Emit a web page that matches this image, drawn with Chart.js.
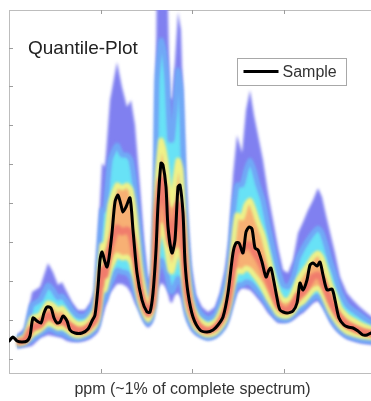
<!DOCTYPE html>
<html><head><meta charset="utf-8">
<script src="https://cdn.jsdelivr.net/npm/chart.js@4.4.1/dist/chart.umd.min.js"></script>
<style>
html,body{margin:0;padding:0;background:#fff;overflow:hidden;width:371px;height:401px}
#wrap{position:absolute;left:0;top:0;width:385px;height:401px}
</style>
</head><body><div id="wrap"><canvas id="c" width="385" height="401"></canvas></div>
<script>
// ---- data (x: spectral point index, y: intensity, arbitrary units) ----
const plotTitle = 'Quantile-Plot';
const seriesName = 'Sample';
const xLabel = 'ppm (~1% of complete spectrum)';
const xTicks = [92, 183, 275];
const yTicks = [14, 53, 92, 131, 170, 209, 248, 287, 325];

const sampleX = [0,4,8,13,18,21,24,28,32,35,38,42,45,48,51,54,58,61,66,73,79,83,86,89,91,93,96,98,100,103,106,109,112,114,117,121,124,128,133,138,141,144,147,149,152,154,157,159,163,166,169,171,174,176,179,184,191,198,204,209,214,219,224,227,230,234,237,240,243,246,249,253,257,260,262,265,268,271,278,284,288,291,294,298,301,304,308,311,314,318,323,326,330,335,339,344,349,354,358,362,367];
const sampleY = [32,36,32,31,32,37,55,52,50,60,66,65,55,50,51,57,52,43,40,40,44,52,58,86,113,121,111,106,115,140,171,178,168,161,166,175,143,100,73,61,61,80,123,168,210,208,186,146,120,133,186,188,160,111,80,56,43,41,43,48,56,80,120,130,130,120,141,146,144,125,123,111,96,103,105,91,75,63,60,62,70,90,83,93,108,110,107,111,98,83,84,73,55,48,46,45,42,38,38,40,40];

const bandX = [8,16,23,31,39,44,49,53,58,63,69,76,81,86,89,93,96,101,108,113,118,122,126,131,135,139,143,146,148,152,155,158,161,163,166,169,172,175,178,182,187,193,199,206,211,216,220,224,228,233,237,241,245,249,254,259,264,269,274,279,284,289,294,299,304,309,313,317,321,326,331,338,344,351,358,367];
const qMax = [38,45,81,86,110,101,88,91,81,71,63,63,70,83,133,210,206,273,311,286,266,273,248,186,133,93,103,223,403,403,403,403,276,273,313,361,343,243,163,108,78,66,61,66,80,103,133,198,238,220,263,283,258,238,213,180,153,126,103,100,113,140,151,163,173,185,176,158,141,120,96,80,73,66,60,53];
const q90 = [35,40,68,73,88,83,75,77,71,63,57,57,63,73,111,163,163,213,228,218,218,213,188,138,103,78,88,173,293,333,323,293,233,233,263,303,283,193,133,88,68,58,54,58,70,88,111,158,188,188,203,213,203,188,173,148,125,103,88,86,95,115,125,133,140,145,140,128,113,98,81,68,63,58,53,48];
const q75 = [33,36,55,58,70,68,63,65,59,53,49,50,55,63,88,128,125,168,188,185,188,183,158,108,83,68,78,133,193,233,223,203,173,168,193,213,203,153,105,73,58,51,48,51,60,73,93,128,158,155,168,173,163,151,138,118,98,81,73,73,80,93,101,108,116,120,115,103,90,78,65,57,53,49,46,43];
const q50 = [31,33,45,48,58,55,51,53,49,45,42,43,47,53,68,103,98,125,145,141,143,138,118,83,68,59,68,103,158,193,183,158,133,128,148,168,158,118,83,63,51,44,42,45,51,61,78,105,125,123,128,128,121,115,105,93,81,68,63,63,68,77,81,88,96,98,93,83,73,63,55,48,45,42,40,39];
const q25 = [29,31,38,43,50,48,45,46,43,39,37,39,42,47,55,83,83,103,118,115,116,111,95,71,60,53,61,83,123,148,138,123,103,101,113,123,118,93,68,55,45,40,38,40,45,53,68,88,103,101,105,103,98,93,85,75,67,59,57,57,61,68,71,77,83,85,80,71,62,54,47,41,39,37,36,35];
const q10 = [27,29,33,39,44,43,40,40,37,35,34,36,38,43,48,68,73,88,103,101,100,95,81,65,55,49,55,73,98,113,108,98,83,81,88,95,91,75,58,48,41,37,35,37,41,48,60,75,88,88,91,90,86,81,75,67,60,54,53,53,57,62,65,70,75,77,72,64,56,48,42,37,35,33,32,31];
const qMin = [25,26,27,35,38,37,36,35,32,31,31,32,34,38,41,55,65,80,89,89,86,80,70,61,51,45,50,73,83,90,88,83,71,70,78,80,75,63,53,43,38,35,33,35,39,45,53,68,80,85,84,83,79,74,68,60,55,50,50,51,53,57,60,65,70,72,67,60,51,44,39,34,32,30,29,28];

// ---- helpers ----
const pts = (xs, ys) => xs.map((x, i) => ({x: x, y: ys[i]}));
const FONT = '"Liberation Sans", Arial, Helvetica, sans-serif';
const C = {
  purple: 'rgb(128,128,240)',
  blue: 'rgb(112,168,246)',
  cyan: 'rgb(104,226,246)',
  yellow: 'rgb(240,242,135)',
  orange: 'rgb(247,176,116)',
  red: 'rgb(240,124,108)'
};
function band(label, ys, fillTo, color) {
  return {label, data: pts(bandX, ys), borderWidth: 0, pointRadius: 0, tension: 0,
    fill: fillTo === undefined ? false : fillTo, backgroundColor: color || 'transparent', borderColor: 'transparent'};
}
function edge(label, ys, color, w) {
  return {label, data: pts(bandX, ys), borderWidth: w, borderColor: color, pointRadius: 0, tension: 0.2, fill: false};
}

const datasets = [
  {label: seriesName, data: pts(sampleX, sampleY), borderColor: '#000', borderWidth: 3, pointRadius: 0,
   tension: 0.25, fill: false, borderJoinStyle: 'round', borderCapStyle: 'round'},
  edge('median', q50, C.red, 7),
  edge('q75 edge', q75, C.yellow, 5),
  edge('q25 edge', q25, C.yellow, 5),
  edge('q90 edge', q90, C.blue, 5),
  edge('q10 edge', q10, C.blue, 5),
  band('q75', q75, '+1', C.orange),
  band('q25', q25),
  band('q90', q90, '+1', C.cyan),
  band('q10', q10),
  band('max', qMax, '+1', C.purple),
  band('min', qMin)
];

const softBands = {
  id: 'softBands',
  beforeDatasetsDraw(chart) { chart.ctx.filter = 'blur(1.5px)'; },
  beforeDatasetDraw(chart, args) { if (args.index === 0) chart.ctx.filter = 'none'; },
  afterDatasetsDraw(chart) { chart.ctx.filter = 'none'; }
};

const decor = {
  id: 'decor',
  afterDraw(chart) {
    const {ctx, chartArea: a, scales} = chart;
    ctx.save();
    ctx.filter = 'none';
    // inward tick marks
    ctx.strokeStyle = '#9c9c9c';
    ctx.lineWidth = 1;
    ctx.beginPath();
    xTicks.forEach(v => {
      const px = Math.round(scales.x.getPixelForValue(v)) + 0.5;
      ctx.moveTo(px, a.bottom); ctx.lineTo(px, a.bottom - 4);
      ctx.moveTo(px, a.top); ctx.lineTo(px, a.top + 4);
    });
    yTicks.forEach(v => {
      const py = Math.round(scales.y.getPixelForValue(v)) + 0.5;
      ctx.moveTo(a.left, py); ctx.lineTo(a.left + 4, py);
    });
    ctx.stroke();
    // in-plot title
    ctx.fillStyle = '#222';
    ctx.font = '19px ' + FONT;
    ctx.textBaseline = 'alphabetic';
    ctx.textAlign = 'left';
    ctx.fillText(plotTitle, a.left + 19, a.top + 44);
    // legend box
    const lx = a.left + 228.5, ly = a.top + 48.5, lw = 109, lh = 27;
    ctx.fillStyle = '#fff';
    ctx.fillRect(lx, ly, lw, lh);
    ctx.strokeStyle = '#a8a8a8';
    ctx.strokeRect(lx, ly, lw, lh);
    ctx.strokeStyle = '#000';
    ctx.lineWidth = 3;
    ctx.beginPath();
    ctx.moveTo(lx + 6, ly + 13); ctx.lineTo(lx + 41, ly + 13);
    ctx.stroke();
    ctx.fillStyle = '#333';
    ctx.font = '16px ' + FONT;
    ctx.textBaseline = 'middle';
    ctx.fillText(chart.data.datasets[0].label, lx + 45, ly + 14);
    ctx.restore();
  }
};

new Chart(document.getElementById('c'), {
  type: 'line',
  data: {datasets},
  options: {
    responsive: false,
    animation: false,
    devicePixelRatio: 1,
    events: [],
    layout: {padding: {left: 0, right: 9, top: 0, bottom: 0}},
    plugins: {legend: {display: false}, title: {display: false}, tooltip: {enabled: false}},
    scales: {
      x: {
        type: 'linear', position: 'bottom', min: 0, max: 367,
        grid: {display: false},
        border: {display: true, color: '#bdbdbd', width: 1},
        ticks: {display: false},
        title: {display: true, text: xLabel, color: '#333',
          font: {family: FONT, size: 16}, padding: {top: 0, bottom: 2}},
        afterFit: s => { s.height = 28; }
      },
      x2: {
        type: 'linear', position: 'top', min: 0, max: 367,
        grid: {display: false},
        border: {display: true, color: '#bdbdbd', width: 1},
        ticks: {display: false},
        afterFit: s => { s.height = 10; }
      },
      y: {
        type: 'linear', position: 'left', min: 0, max: 363,
        grid: {display: false},
        border: {display: true, color: '#bdbdbd', width: 1},
        ticks: {display: false},
        afterFit: s => { s.width = 9; }
      }
    }
  },
  plugins: [softBands, decor]
});
</script>
</body></html>
